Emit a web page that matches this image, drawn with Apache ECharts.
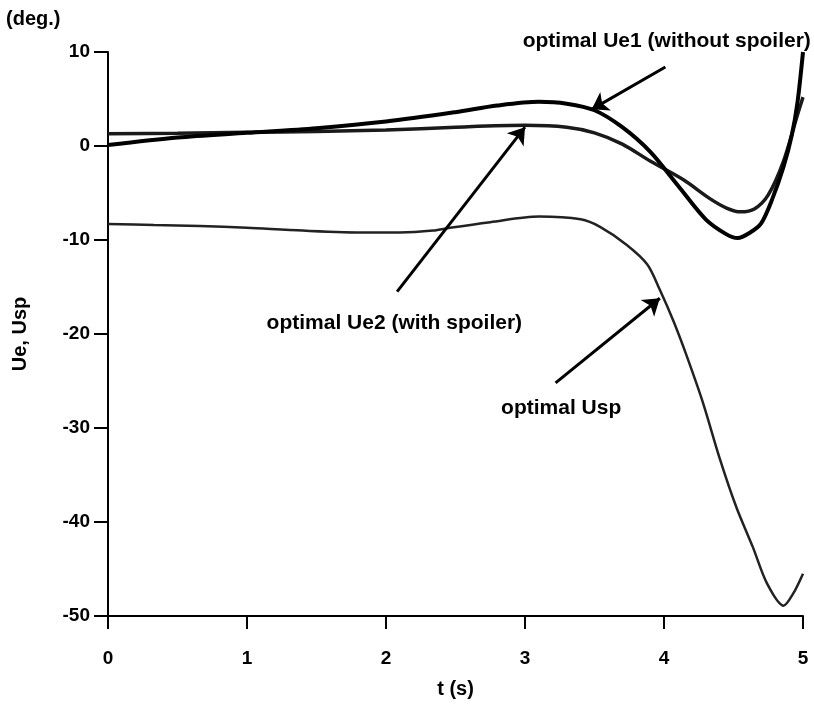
<!DOCTYPE html>
<html>
<head>
<meta charset="utf-8">
<script src="https://cdn.jsdelivr.net/npm/echarts@6/dist/echarts.min.js"></script>
<style>html,body{margin:0;padding:0;background:#fff}#c{width:814px;height:710px}</style>
</head>
<body>
<div id="c"></div>
<script>
// time samples (s) and values (deg.)
var ue1T = [0, 0.5, 1, 1.5, 2, 2.5, 2.8, 3.1, 3.3, 3.5, 3.7, 3.9, 4.1, 4.3, 4.45, 4.53, 4.62, 4.7, 4.78, 4.86, 4.92, 4.96, 5.0];
var ue1V = [0.1, 0.9, 1.4, 1.9, 2.6, 3.6, 4.3, 4.7, 4.5, 3.8, 2.0, -0.6, -4.2, -7.8, -9.4, -9.8, -9.2, -8.2, -5.6, -2.2, 1.2, 4.6, 10.0];

var ue2T = [0, 0.5, 1, 1.5, 2, 2.5, 3, 3.3, 3.5, 3.7, 3.9, 4.14, 4.33, 4.45, 4.55, 4.65, 4.75, 4.86, 4.96, 5.0];
var ue2V = [1.3, 1.35, 1.45, 1.55, 1.7, 2.0, 2.2, 2.0, 1.4, 0.2, -1.6, -3.6, -5.6, -6.6, -7.0, -6.7, -5.2, -1.6, 3.3, 5.2];

var uspT = [0, 0.33, 0.66, 1.0, 1.4, 1.86, 2.1, 2.34, 2.46, 2.75, 3.1, 3.4, 3.54, 3.73, 3.88, 3.97, 4.07, 4.16, 4.28, 4.4, 4.52, 4.64, 4.74, 4.86, 4.93, 5.0];
var uspV = [-8.3, -8.4, -8.5, -8.7, -9.0, -9.2, -9.2, -9.0, -8.7, -8.1, -7.5, -7.8, -8.6, -10.5, -12.6, -15.3, -18.7, -22.2, -27.3, -33.2, -38.4, -42.7, -46.5, -48.9, -47.6, -45.5];

var xTicks = [0, 1, 2, 3, 4, 5];
var yTicks = [-50, -40, -30, -20, -10, 0, 10];

var labelUe1 = 'optimal Ue1 (without spoiler)';
var labelUe2 = 'optimal Ue2 (with spoiler)';
var labelUsp = 'optimal Usp';

function zip(t, v) { return t.map(function (x, i) { return [x, v[i]]; }); }

var FONT = 'Liberation Sans';
var chart = echarts.init(document.getElementById('c'), null, {renderer: 'canvas'});

function arrow(from, to) {
  return [{coord: from}, {coord: to}];
}

var annLine = {
  silent: true,
  symbol: ['none', 'arrow'],
  symbolSize: 16,
  label: {show: false},
  lineStyle: {color: '#000', width: 3, type: 'solid'},
  emphasis: {disabled: true}
};

chart.setOption({
  animation: false,
  backgroundColor: '#fff',
  grid: {left: 108, right: 11, top: 52, bottom: 94},
  xAxis: {
    type: 'value', min: xTicks[0], max: xTicks[xTicks.length - 1], interval: 1,
    name: 't (s)', nameLocation: 'middle', nameGap: 63,
    nameTextStyle: {fontFamily: FONT, fontSize: 20, fontWeight: 'bold', color: '#000'},
    axisLine: {onZero: false, lineStyle: {color: '#000', width: 2}},
    axisTick: {inside: false, length: 13, lineStyle: {color: '#000', width: 2}},
    axisLabel: {fontFamily: FONT, fontSize: 19, fontWeight: 'bold', color: '#000', margin: 33},
    splitLine: {show: false}
  },
  yAxis: {
    type: 'value', min: yTicks[0], max: yTicks[yTicks.length - 1], interval: 10,
    name: 'Ue, Usp', nameLocation: 'middle', nameGap: 78, nameRotate: 90,
    nameTextStyle: {fontFamily: FONT, fontSize: 20, fontWeight: 'bold', color: '#000'},
    axisLine: {onZero: false, lineStyle: {color: '#000', width: 2}},
    axisTick: {inside: false, length: 14, lineStyle: {color: '#000', width: 2}},
    axisLabel: {fontFamily: FONT, fontSize: 19, fontWeight: 'bold', color: '#000', margin: 18},
    splitLine: {show: false}
  },
  series: [
    {
      name: 'Ue1', type: 'line', data: zip(ue1T, ue1V), smooth: 0.3, showSymbol: false,
      lineStyle: {color: '#000', width: 4}, z: 3,
      markLine: Object.assign({data: [arrow([4.01, 8.4], [3.48, 3.9])]}, annLine)
    },
    {
      name: 'Ue2', type: 'line', data: zip(ue2T, ue2V), smooth: 0.3, showSymbol: false,
      lineStyle: {color: '#1a1a1a', width: 3.5}, z: 2,
      markLine: Object.assign({data: [arrow([2.08, -15.5], [3.0, 2.0])]}, annLine)
    },
    {
      name: 'Usp', type: 'line', data: zip(uspT, uspV), smooth: 0.3, showSymbol: false,
      lineStyle: {color: '#222', width: 2.5}, z: 2,
      markLine: Object.assign({data: [arrow([3.22, -25.2], [3.97, -16.2])]}, annLine)
    }
  ]
});

// text annotations anchored in data coordinates
var notes = [
  {coord: [4.02, 11.1], text: labelUe1},
  {coord: [2.06, -18.8], text: labelUe2},
  {coord: [3.26, -27.9], text: labelUsp}
];
var graphics = [{
  type: 'text', left: 6, top: 9,
  style: {text: '(deg.)', font: 'bold 20px "' + FONT + '"', fill: '#000'}
}];
notes.forEach(function (n) {
  var p = chart.convertToPixel({gridIndex: 0}, n.coord);
  graphics.push({
    type: 'text', x: p[0], y: p[1], z: 10,
    style: {text: n.text, font: 'bold 21px "' + FONT + '"', fill: '#000', align: 'center', verticalAlign: 'middle'}
  });
});
chart.setOption({graphic: graphics});
</script>
</body>
</html>
